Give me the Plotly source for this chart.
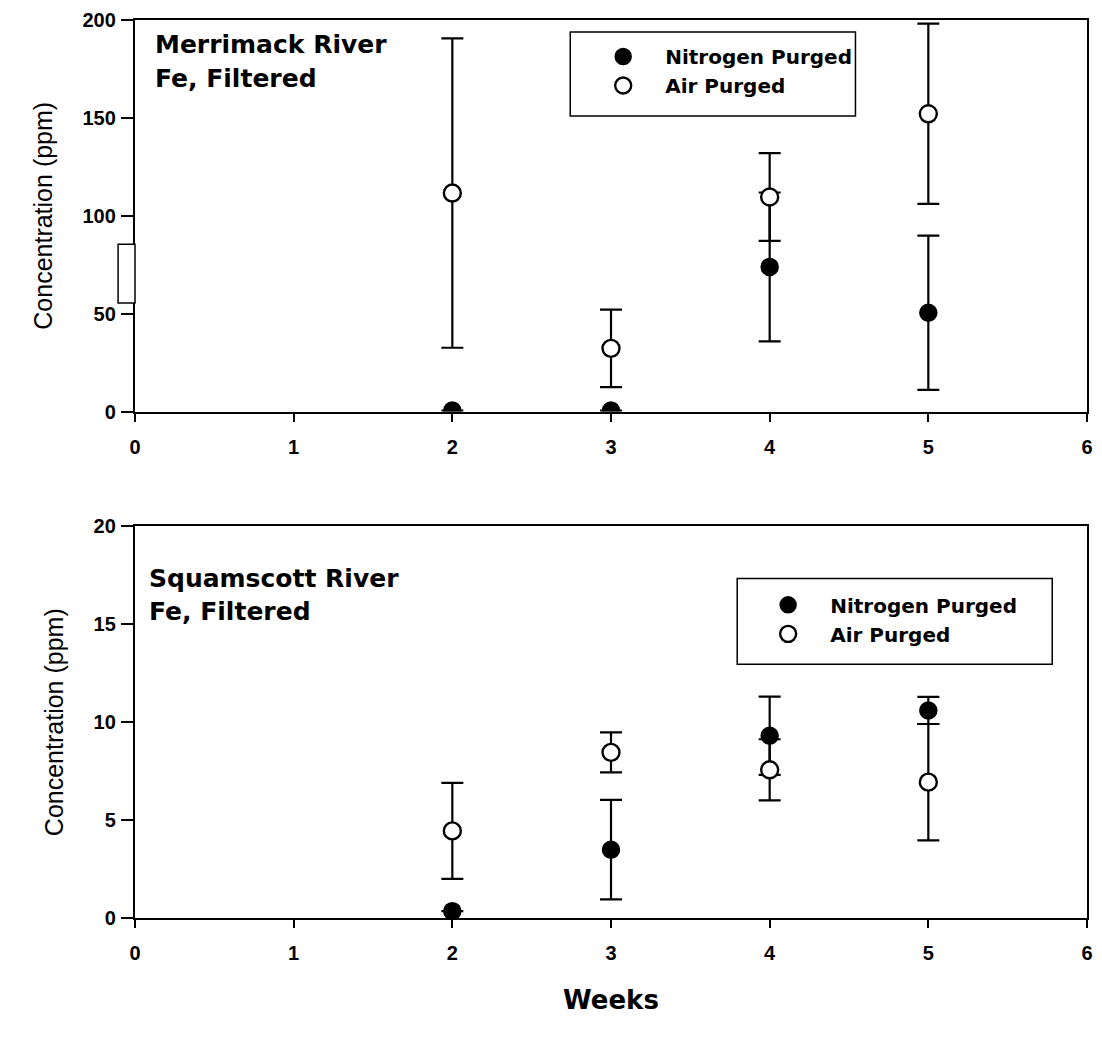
import plotly.graph_objects as go

# ---------------- data ----------------
weeks = [2, 3, 4, 5]

# Merrimack River (top panel)
merr_n2 = [0.5, 0.5, 73.9, 50.5]
merr_n2_err = [0.0, 0.0, 38.0, 39.4]
merr_air = [111.6, 32.3, 109.6, 152.1]
merr_air_err = [79.0, 19.8, 22.4, 46.0]

# Squamscott River (bottom panel)
squ_n2 = [0.35, 3.49, 9.31, 10.6]
squ_n2_err = [0.0, 2.54, 2.0, 0.69]
squ_air = [4.45, 8.46, 7.57, 6.94]
squ_air_err = [2.45, 1.02, 1.56, 2.97]

x_ticks = [0, 1, 2, 3, 4, 5, 6]
top_y_ticks = [0, 50, 100, 150, 200]
bot_y_ticks = [0, 5, 10, 15, 20]

FONT = "Liberation Sans, Arial, sans-serif"
WIDE = "DejaVu Sans, Liberation Sans, sans-serif"

fig = go.Figure()

def add_pair(n2, n2e, air, aire, xa, ya, legend):
    fig.add_trace(go.Scatter(
        x=weeks, y=n2, mode="markers", name="Nitrogen Purged",
        xaxis=xa, yaxis=ya, legend=legend,
        marker=dict(symbol="circle", size=17, color="black",
                    line=dict(color="black", width=1.5)),
        error_y=dict(type="data", array=n2e, visible=True,
                     color="black", thickness=2.2, width=11),
    ))
    fig.add_trace(go.Scatter(
        x=weeks, y=air, mode="markers", name="Air Purged",
        xaxis=xa, yaxis=ya, legend=legend,
        marker=dict(symbol="circle", size=17, color="white",
                    line=dict(color="black", width=2.4)),
        error_y=dict(type="data", array=aire, visible=True,
                     color="black", thickness=2.2, width=11),
    ))

add_pair(merr_n2, merr_n2_err, merr_air, merr_air_err, "x", "y", "legend")
add_pair(squ_n2, squ_n2_err, squ_air, squ_air_err, "x2", "y2", "legend2")

W, H = 1102, 1039
L, R, T, B = 135, 9, 19, 121
pw = W - L - R
ph = H - T - B
top_dom = [(918 - 411) / ph, 1.0]
bot_dom = [0.0, (918 - 526) / ph]

def px(xp):
    return (xp - L) / pw

def py(yp):
    return (H - B - yp) / ph

axis_common = dict(
    showline=True, linecolor="black", linewidth=2.4, mirror=True,
    ticks="outside", tickwidth=1.8, tickcolor="black",
    showgrid=False, zeroline=False,
    tickfont=dict(family=FONT, size=20, color="black", weight="bold"),
)

legend_font = dict(family=WIDE, size=20, color="black", weight="bold")
ytitle_font = dict(family=FONT, size=25, color="black")

fig.update_layout(
    width=W, height=H,
    margin=dict(l=L, r=R, t=T, b=B),
    paper_bgcolor="white", plot_bgcolor="white",
    font=dict(family=FONT, color="black"),
    xaxis=dict(domain=[0, 1], range=[0, 6], tickvals=x_ticks, anchor="y",
               ticklen=8, ticklabelstandoff=8, **axis_common),
    yaxis=dict(domain=top_dom, range=[0, 200], tickvals=top_y_ticks, anchor="x",
               ticklen=12, ticklabelstandoff=1,
               title=dict(text="Concentration (ppm)", standoff=23, font=ytitle_font),
               **axis_common),
    xaxis2=dict(domain=[0, 1], range=[0, 6], tickvals=x_ticks, anchor="y2",
                ticklen=8, ticklabelstandoff=8,
                title=dict(text="Weeks", standoff=28,
                           font=dict(family=WIDE, size=26, color="black", weight="bold")),
                **axis_common),
    yaxis2=dict(domain=bot_dom, range=[0, 20], tickvals=bot_y_ticks, anchor="x2",
                ticklen=12, ticklabelstandoff=1,
                title=dict(text="Concentration (ppm)", standoff=23, font=ytitle_font),
                **axis_common),
    legend=dict(x=px(584), y=py(36), xanchor="left", yanchor="top",
                bgcolor="rgba(0,0,0,0)", borderwidth=0,
                font=legend_font, itemwidth=74, tracegroupgap=0),
    legend2=dict(x=px(750), y=py(585), xanchor="left", yanchor="top",
                 bgcolor="rgba(0,0,0,0)", borderwidth=0,
                 font=legend_font, itemwidth=74, tracegroupgap=0),
    showlegend=True,
)

# legend boxes
fig.add_shape(type="rect", xref="paper", yref="paper",
              x0=px(573), x1=px(860), y0=py(115), y1=py(31),
              line=dict(color="black", width=1.5), fillcolor="white", layer="below")
fig.add_shape(type="rect", xref="paper", yref="paper",
              x0=px(741), x1=px(1058), y0=py(664), y1=py(578),
              line=dict(color="black", width=1.5), fillcolor="white", layer="below")

ann_font = dict(family=WIDE, size=25, color="black", weight="bold")
fig.add_annotation(text="Merrimack River", xref="paper", yref="paper",
                   x=px(153), y=py(44), xanchor="left", yanchor="middle",
                   showarrow=False, font=ann_font)
fig.add_annotation(text="Fe, Filtered", xref="paper", yref="paper",
                   x=px(153), y=py(78), xanchor="left", yanchor="middle",
                   showarrow=False, font=ann_font)
fig.add_annotation(text="Squamscott River", xref="paper", yref="paper",
                   x=px(147), y=py(578), xanchor="left", yanchor="middle",
                   showarrow=False, font=ann_font)
fig.add_annotation(text="Fe, Filtered", xref="paper", yref="paper",
                   x=px(147), y=py(611), xanchor="left", yanchor="middle",
                   showarrow=False, font=ann_font)

# small scanning artefact box on the left of the top y axis
fig.add_shape(type="rect", xref="x domain", yref="y", x0=-17 / pw, x1=0,
              y0=55.5, y1=85.5, line=dict(color="black", width=1.5),
              fillcolor="white", layer="above")

fig.write_html("out.html")
